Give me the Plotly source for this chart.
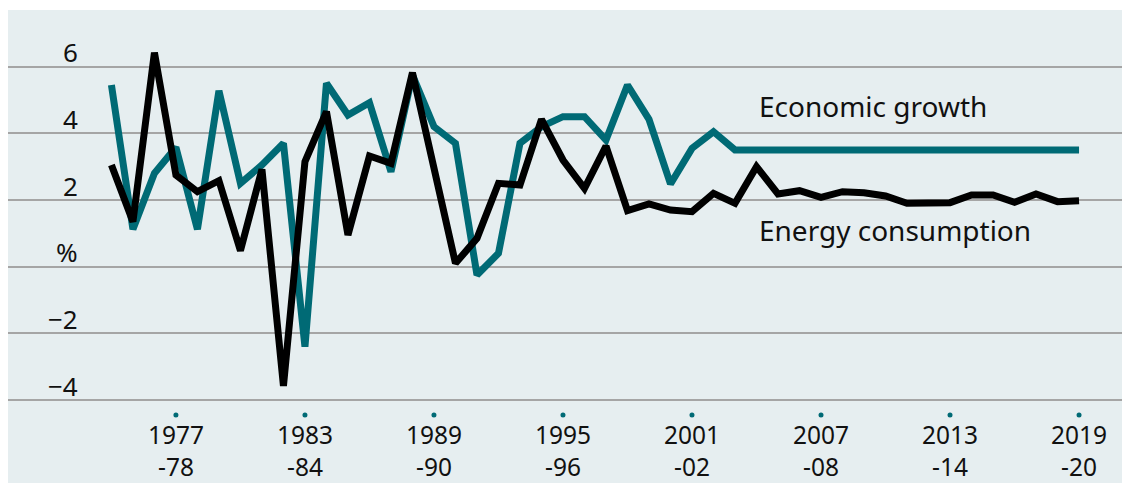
import plotly.graph_objects as go

years = list(range(1974, 2020))
economic_growth = [5.45, 1.12, 2.8, 3.58, 1.12, 5.28, 2.5, 3.05, 3.7, -2.4,
                   5.5, 4.55, 4.92, 2.85, 5.75, 4.2, 3.7, -0.25, 0.4, 3.7,
                   4.2, 4.5, 4.5, 3.8, 5.45, 4.42, 2.48, 3.55, 4.05, 3.5,
                   3.5, 3.5, 3.5, 3.5, 3.5, 3.5, 3.5, 3.5, 3.5, 3.5,
                   3.5, 3.5, 3.5, 3.5, 3.5, 3.5]
energy_consumption = [3.05, 1.35, 6.42, 2.75, 2.25, 2.58, 0.48, 2.92, -3.58, 3.15,
                      4.65, 0.95, 3.32, 3.1, 5.82, 3.0, 0.1, 0.85, 2.5, 2.45,
                      4.42, 3.2, 2.35, 3.62, 1.68, 1.88, 1.7, 1.65, 2.2, 1.9,
                      3.0, 2.18, 2.28, 2.08, 2.25, 2.22, 2.12, 1.9, 1.9, 1.92,
                      2.15, 2.15, 1.93, 2.18, 1.95, 1.98]

tick_years = [1977, 1983, 1989, 1995, 2001, 2007, 2013, 2019]
tick_labels = ["1977<br>-78", "1983<br>-84", "1989<br>-90", "1995<br>-96",
               "2001<br>-02", "2007<br>-08", "2013<br>-14", "2019<br>-20"]
y_ticks = [-4, -2, 0, 2, 4, 6]
y_tick_text = ["\u22124", "\u22122", "%", "2", "4", "6"]

TEAL = "#006a75"
BG = "#e6eef0"
FONT = "Noto Sans"
TXT = "#111111"

fig = go.Figure()
fig.add_trace(go.Scatter(x=years, y=economic_growth, mode="lines",
                         line=dict(color=TEAL, width=7), showlegend=False,
                         hoverinfo="skip"))
fig.add_trace(go.Scatter(x=years, y=energy_consumption, mode="lines",
                         line=dict(color="#000000", width=7), showlegend=False,
                         hoverinfo="skip"))
# tick dots
fig.add_trace(go.Scatter(x=tick_years, y=[-4.45] * len(tick_years), mode="markers",
                         marker=dict(color=TEAL, size=5), showlegend=False,
                         hoverinfo="skip"))

annotations = []
for yv, t in zip(y_ticks, y_tick_text):
    annotations.append(dict(x=0.064, xref="paper", y=yv, yref="y", text=t,
                            showarrow=False, xanchor="right", yanchor="middle",
                            yshift=14.5, font=dict(family=FONT, size=26, color=TXT)))
for xv, lab in zip(tick_years, tick_labels):
    annotations.append(dict(x=xv, xref="x", y=-5.52, yref="y", text=lab,
                            showarrow=False, xanchor="center", yanchor="middle",
                            font=dict(family=FONT, size=24.5, color=TXT)))
annotations.append(dict(x=2004.0, xref="x", y=4.82, yref="y", text="Economic growth",
                        showarrow=False, xanchor="left", yanchor="middle",
                        font=dict(family=FONT, size=28, color=TXT)))
annotations.append(dict(x=2004.0, xref="x", y=1.10, yref="y", text="Energy consumption",
                        showarrow=False, xanchor="left", yanchor="middle",
                        font=dict(family=FONT, size=28, color=TXT)))

fig.update_layout(
    width=1130, height=483,
    margin=dict(l=0, r=8, t=2, b=8),
    paper_bgcolor="white", plot_bgcolor=BG,
    xaxis=dict(range=[1969.19, 2021.37], visible=False, fixedrange=True),
    yaxis=dict(range=[-6.49, 7.70], tickvals=y_ticks, showticklabels=False,
               showgrid=True, gridcolor="#a5a5a5", gridwidth=1.5,
               zeroline=False, showline=False, ticks="", fixedrange=True),
    annotations=annotations,
)

fig.write_html("out.html")
